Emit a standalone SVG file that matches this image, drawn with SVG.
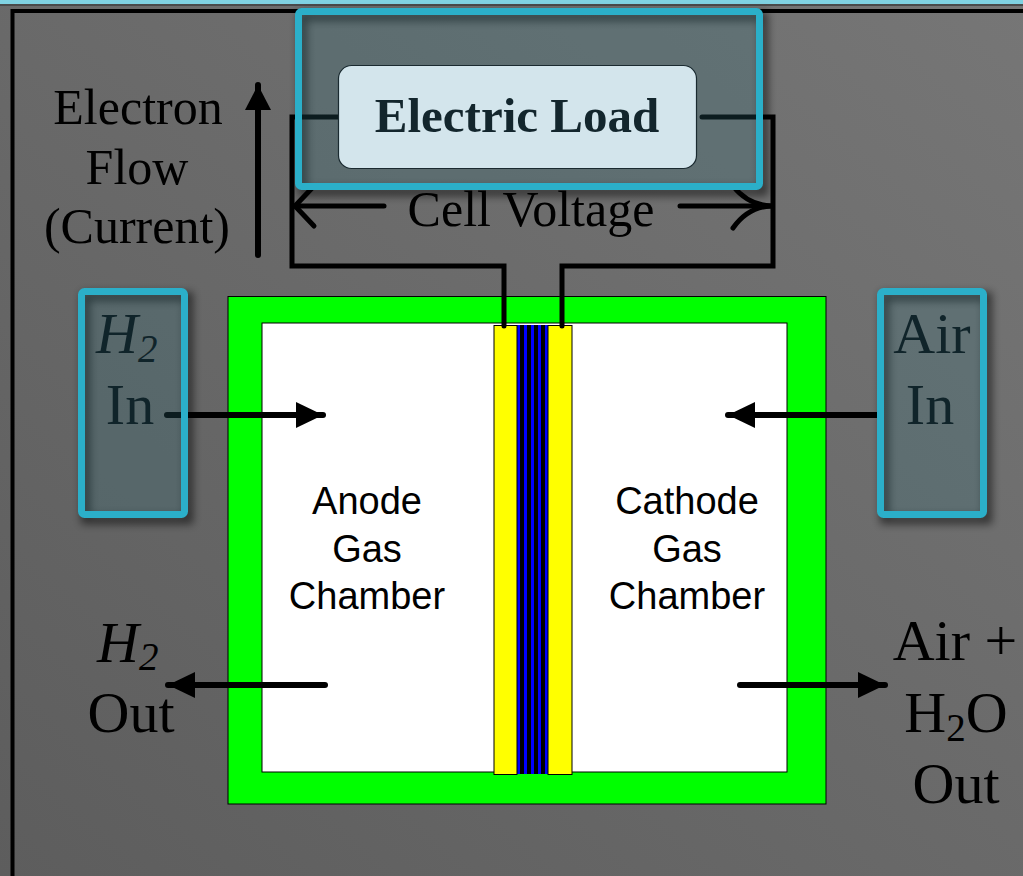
<svg xmlns="http://www.w3.org/2000/svg" width="1023" height="876" viewBox="0 0 1023 876">
<defs>
<linearGradient id="bg" x1="1" y1="0" x2="0" y2="1">
<stop offset="0" stop-color="#767676"/>
<stop offset="1" stop-color="#5d5d5d"/>
</linearGradient>
<filter id="sh" x="-20%" y="-20%" width="140%" height="140%">
<feGaussianBlur stdDeviation="4"/>
</filter>
<marker id="ah" markerUnits="userSpaceOnUse" markerWidth="28" markerHeight="28" refX="27" refY="13" orient="auto">
<path d="M0,0 L27,13 L0,26 z" fill="#000"/>
</marker>
<marker id="ahUp" markerUnits="userSpaceOnUse" markerWidth="28" markerHeight="28" refX="25" refY="13" orient="auto">
<path d="M0,0 L25,13 L0,26 z" fill="#000"/>
</marker>
</defs>
<style>
.serif{font-family:"Liberation Serif","Times New Roman",serif;}
.sans{font-family:"Liberation Sans",Arial,sans-serif;}
.lbl{font-size:50px;fill:#000;}
.big{font-size:58px;}
.teal{fill:#10242a;}
.box{fill:#306f7c;fill-opacity:0.25;stroke:#2bafc9;stroke-width:7;}
.boxsh{fill:none;stroke:#000;stroke-opacity:0.55;stroke-width:9;}
.wire{fill:none;stroke:#000;stroke-width:5;stroke-linecap:round;stroke-linejoin:miter;}
.flow{fill:none;stroke:#000;stroke-width:6;stroke-linecap:round;}
.ch{font-size:38px;fill:#000;text-anchor:middle;}
</style>

<!-- background -->
<rect x="0" y="0" width="1023" height="876" fill="url(#bg)"/>
<rect x="0" y="0" width="1023" height="4" fill="#80d2e2"/>
<rect x="0" y="4" width="1023" height="2" fill="#4a4a4a"/>
<path d="M12.5 876 V11 H1023" fill="none" stroke="#000" stroke-width="4"/>

<!-- fuel cell body -->
<g id="cell">
<rect x="228" y="296.5" width="598" height="507.5" fill="#00ff00" stroke="#000" stroke-width="1"/>
<rect x="262" y="323" width="525" height="449" fill="#ffffff" stroke="#000" stroke-width="1"/>
<g id="membrane">
<rect x="517" y="325" width="31" height="449" fill="#0000ff"/>
<rect x="520" y="325" width="4" height="449" fill="#000"/>
<rect x="527" y="325" width="4" height="449" fill="#000"/>
<rect x="534" y="325" width="4" height="449" fill="#000"/>
<rect x="541" y="325" width="4" height="449" fill="#000"/>
<rect x="494" y="325.5" width="23" height="449" fill="#ffff00" stroke="#000" stroke-width="1"/>
<rect x="548" y="325.5" width="24" height="449" fill="#ffff00" stroke="#000" stroke-width="1"/>
</g>
<text class="sans ch" x="367" y="514">Anode</text>
<text class="sans ch" x="367" y="562">Gas</text>
<text class="sans ch" x="367" y="609">Chamber</text>
<text class="sans ch" x="687" y="514">Cathode</text>
<text class="sans ch" x="687" y="562">Gas</text>
<text class="sans ch" x="687" y="609">Chamber</text>
</g>

<!-- connectors -->
<g id="connectors">
<path class="wire" d="M340 117 H292 V266 H504 V326"/>
<path class="wire" d="M702 117 H773 V266 H562 V326"/>
<line class="wire" x1="384" y1="206" x2="295" y2="206"/>
<path class="wire" d="M314 186 L295 206 L314 226"/>
<line class="wire" x1="680" y1="206" x2="771" y2="206"/>
<path class="wire" d="M733 186 Q748 205 771 206 Q748 207 733 228"/>
<line class="flow" x1="258" y1="255" x2="258" y2="85" marker-end="url(#ahUp)"/>
<line class="flow" x1="167" y1="415" x2="323" y2="415" marker-end="url(#ah)"/>
<line class="flow" x1="877" y1="415" x2="728" y2="415" marker-end="url(#ah)"/>
<line class="flow" x1="325" y1="685" x2="168" y2="685" marker-end="url(#ah)"/>
<line class="flow" x1="740" y1="685" x2="885" y2="685" marker-end="url(#ah)"/>
</g>

<!-- electron flow label -->
<g id="electron-flow">
<text class="serif lbl" x="138" y="124" text-anchor="middle">Electron</text>
<text class="serif lbl" x="137" y="184" text-anchor="middle">Flow</text>
<text class="serif lbl" x="137" y="243" text-anchor="middle">(Current)</text>
</g>

<!-- cell voltage label -->
<g id="cell-voltage">
<text class="serif lbl" x="531" y="226" text-anchor="middle">Cell Voltage</text>
</g>

<!-- electric load -->
<g id="electric-load">
<rect class="boxsh" x="302.5" y="16.5" width="461" height="175" filter="url(#sh)"/>
<rect class="box" x="298.5" y="11.5" width="461" height="175" rx="3"/>
<rect x="338.5" y="65.5" width="358" height="103" rx="13" fill="#d3e5ec" stroke="#1a2a30" stroke-width="1.2"/>
<text class="serif" x="517" y="132" text-anchor="middle" font-size="49" font-weight="bold" fill="#13262d">Electric Load</text>
</g>

<!-- H2 in -->
<g id="h2-in">
<rect class="boxsh" x="85.5" y="296.5" width="103" height="223" filter="url(#sh)"/>
<rect class="box" x="81.5" y="291.5" width="103" height="223" rx="3"/>
<text class="serif big teal" x="96" y="353" font-style="italic">H<tspan font-size="39" dy="9">2</tspan></text>
<text class="serif big teal" x="130" y="424" text-anchor="middle">In</text>
</g>

<!-- Air in -->
<g id="air-in">
<rect class="boxsh" x="884.5" y="296.5" width="103" height="223" filter="url(#sh)"/>
<rect class="box" x="880.5" y="291.5" width="103" height="223" rx="3"/>
<text class="serif big teal" x="932" y="353" text-anchor="middle">Air</text>
<text class="serif big teal" x="930" y="424" text-anchor="middle">In</text>
</g>

<!-- H2 out -->
<g id="h2-out">
<text class="serif big" x="97" y="662" font-style="italic" fill="#000">H<tspan font-size="39" dy="8">2</tspan></text>
<text class="serif big" x="131" y="732" text-anchor="middle" fill="#000">Out</text>
</g>

<!-- Air + H2O out -->
<g id="air-out">
<text class="serif big" x="955" y="660" text-anchor="middle" fill="#000">Air +</text>
<text class="serif big" x="956" y="732" text-anchor="middle" fill="#000">H<tspan font-size="39" dy="9">2</tspan><tspan dy="-9">O</tspan></text>
<text class="serif big" x="956" y="803" text-anchor="middle" fill="#000">Out</text>
</g>
</svg>
